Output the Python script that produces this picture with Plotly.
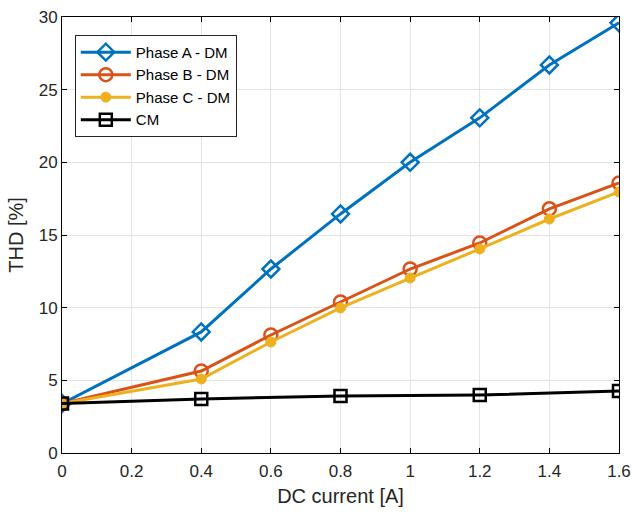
import plotly.graph_objects as go

x_phase = [0, 0.4, 0.6, 0.8, 1.0, 1.2, 1.4, 1.6]
phase_a = [3.4, 8.33, 12.66, 16.45, 20.0, 23.06, 26.7, 29.6]
phase_b = [3.4, 5.64, 8.12, 10.39, 12.66, 14.45, 16.8, 18.58]
phase_c = [3.4, 5.09, 7.64, 9.98, 12.04, 14.04, 16.1, 17.96]
x_cm = [0, 0.4, 0.8, 1.2, 1.6]
cm = [3.4, 3.72, 3.92, 3.99, 4.27]

fig = go.Figure()
fig.add_trace(go.Scatter(x=x_phase, y=phase_a, name="Phase A - DM", mode="lines+markers",
                         line=dict(color="#0072BD", width=3),
                         marker=dict(symbol="diamond-open", size=13, line=dict(width=2.5, color="#0072BD"))))
fig.add_trace(go.Scatter(x=x_phase, y=phase_b, name="Phase B - DM", mode="lines+markers",
                         line=dict(color="#D95319", width=3),
                         marker=dict(symbol="circle-open", size=13, line=dict(width=2.5, color="#D95319"))))
fig.add_trace(go.Scatter(x=x_phase, y=phase_c, name="Phase C - DM", mode="lines+markers",
                         line=dict(color="#EDB120", width=3),
                         marker=dict(symbol="circle", size=10, color="#EDB120", line=dict(width=1, color="#EDB120"))))
fig.add_trace(go.Scatter(x=x_cm, y=cm, name="CM", mode="lines+markers",
                         line=dict(color="black", width=3),
                         marker=dict(symbol="square-open", size=12, line=dict(width=2.5, color="black"))))

axis_common = dict(showline=True, linecolor="black", linewidth=1, mirror="ticks",
                   ticks="inside", ticklen=5, tickcolor="black", automargin=False,
                   showgrid=True, gridcolor="#e3e3e3", gridwidth=1, zeroline=False,
                   tickfont=dict(size=17, color="#262626"),
                   title_font=dict(size=20, color="#262626"))

fig.update_layout(
    width=633, height=514,
    margin=dict(l=62, r=14, t=17, b=61),
    paper_bgcolor="white", plot_bgcolor="white",
    font=dict(family="Liberation Sans, Arial, sans-serif", color="#262626"),
    xaxis=dict(range=[0, 1.6], dtick=0.2, ticklabelstandoff=3,
               title=dict(text="DC current [A]", standoff=8), **axis_common),
    yaxis=dict(range=[0, 30], dtick=5, title=dict(text="THD [%]", standoff=9), **axis_common),
    legend=dict(x=0.023, y=0.959, xanchor="left", yanchor="top", bgcolor="white",
                bordercolor="#262626", borderwidth=1, font=dict(size=15, color="black"),
                tracegroupgap=0, itemwidth=50),
    showlegend=True,
)

fig.write_html("out.html", config={"displayModeBar": False},
               post_script="document.body.style.margin='0';document.body.style.overflow='hidden';")
